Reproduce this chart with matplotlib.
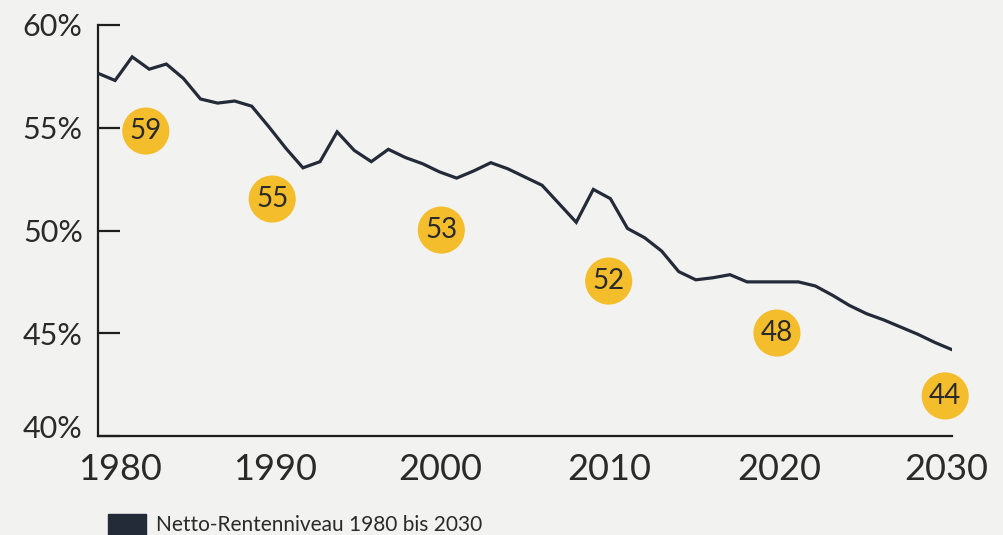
import matplotlib.pyplot as plt
import matplotlib.transforms as mtransforms
from matplotlib.patches import Rectangle

# Netto-Rentenniveau (%) per year
years = list(range(1980, 2031))
niveau = [57.65, 57.3, 58.45, 57.85, 58.1, 57.4, 56.4, 56.2, 56.3, 56.05,
          55.05, 54.0, 53.05, 53.35, 54.8, 53.9, 53.35, 53.95, 53.55, 53.25,
          52.85, 52.55, 52.9, 53.3, 53.0, 52.6, 52.2, 51.3, 50.4, 52.0,
          51.55, 50.1, 49.65, 49.0, 48.0, 47.6, 47.7, 47.85, 47.5, 47.5,
          47.5, 47.5, 47.3, 46.85, 46.35, 45.95, 45.65, 45.3, 44.95, 44.55,
          44.2]

# yellow badges
badge_x = [1982.8, 1990.2, 2000.1, 2009.9, 2019.75, 2029.6]
badge_y = [54.84, 51.53, 50.02, 47.54, 45.01, 41.95]
badge_labels = ['59', '55', '53', '52', '48', '44']

y_ticks = [40, 45, 50, 55, 60]
x_ticks = [1980, 1990, 2000, 2010, 2020, 2030]
legend_label = 'Netto-Rentenniveau 1980 bis 2030'

bg = '#f2f2f0'
navy = '#232a38'
txt = '#2a2a2a'
yellow = '#f3bd2c'

plt.rcParams['font.family'] = ['Lato', 'DejaVu Sans']

fig = plt.figure(figsize=(10.04, 5.35), dpi=100, facecolor=bg)
ax = fig.add_axes([98 / 1004, 1 - 436 / 535, 854 / 1004, 411 / 535])
ax.set_facecolor(bg)

ax.plot(years, niveau, color=navy, linewidth=2.3, solid_joinstyle='miter', zorder=3)

ax.scatter(badge_x, badge_y, s=1150, color=yellow, edgecolors='none', zorder=4,
           clip_on=False)
for bx, by, lab in zip(badge_x, badge_y, badge_labels):
    ax.text(bx, by, lab, ha='center', va='center', fontsize=20, color=txt, zorder=5)

ax.set_xlim(1980, 2030)
ax.set_ylim(40, 60)

for s in ['top', 'right']:
    ax.spines[s].set_visible(False)
for s in ['left', 'bottom']:
    ax.spines[s].set_color('#1e1e1e')
    ax.spines[s].set_linewidth(1.6)

ax.set_yticks(y_ticks)
ax.set_yticklabels([f'{v}%' for v in y_ticks])
ax.tick_params(axis='y', direction='in', length=16, width=1.6, color='#1e1e1e',
               pad=11, labelsize=22, labelcolor=txt)

ax.set_xticks(x_ticks)
ax.set_xticklabels([str(v) for v in x_ticks])
ax.tick_params(axis='x', length=0, pad=12, labelsize=26, labelcolor=txt)

# nudge a few labels like the original layout
x_shift = [22, 6, 1, -1, -2, -6]
for lab, dx in zip(ax.get_xticklabels(), x_shift):
    lab.set_transform(lab.get_transform() +
                      mtransforms.ScaledTranslation(dx / 100, 0, fig.dpi_scale_trans))
ylab0 = ax.get_yticklabels()[0]
ylab0.set_transform(ylab0.get_transform() +
                    mtransforms.ScaledTranslation(0, 9 / 100, fig.dpi_scale_trans))

# legend swatch + text at the bottom
fig.add_artist(Rectangle((108 / 1004, -0.01), 38 / 1004, 26 / 535,
                         transform=fig.transFigure, color=navy))
fig.text(156 / 1004, 1 - 525 / 535, legend_label, fontsize=15, color=txt,
         va='center', ha='left')

fig.savefig('out.png', dpi=100, facecolor=bg)
